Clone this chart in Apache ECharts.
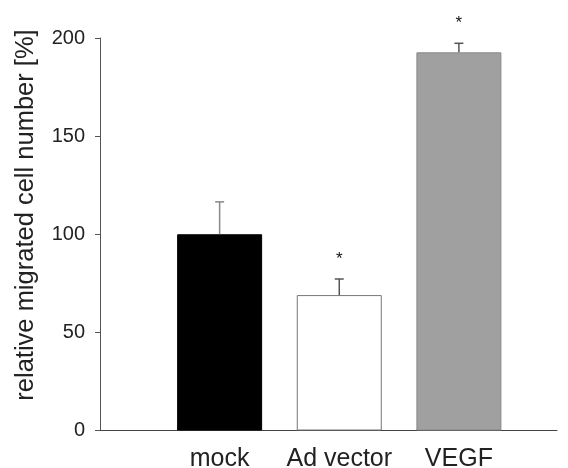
<!DOCTYPE html>
<html>
<head>
<meta charset="utf-8">
<script src="https://cdn.jsdelivr.net/npm/echarts@6/dist/echarts.min.js"></script>
<style>html,body{margin:0;padding:0;background:#fff}#c{width:568px;height:468px}</style>
</head>
<body>
<div id="c"></div>
<script>
const categories = ['mock', 'Ad vector', 'VEGF'];
const positions = [1, 2, 3];
const means = [100, 69, 192.7];
const errorTops = [116.5, 77.2, 197.3];
const significant = [false, true, true];
const yTicks = [0, 50, 100, 150, 200];
const yTitle = 'relative migrated cell number [%]';

const barFill = ['#000000', '#ffffff', '#a0a0a0'];
const barBorder = ['#000000', '#777777', '#888888'];
const FONT = 'Liberation Sans, Arial, sans-serif';

const chart = echarts.init(document.getElementById('c'), null, {renderer: 'canvas'});
chart.setOption({
  animation: false,
  backgroundColor: '#fff',
  grid: {left: 100, right: 11, top: 38, bottom: 37.5, containLabel: false, outerBoundsMode: 'none'},
  graphic: [{
    type: 'text', x: 26, y: 215, rotation: Math.PI / 2,
    style: {text: yTitle, align: 'center', verticalAlign: 'middle', fontSize: 25.5, fill: '#222', fontFamily: FONT}
  }],
  xAxis: {
    type: 'value', min: 0, max: 3.82, interval: 1,
    axisLine: {show: true, lineStyle: {color: '#444', width: 1}},
    axisTick: {show: false},
    splitLine: {show: false},
    axisLabel: {
      margin: 16, fontSize: 25, color: '#222', fontFamily: FONT,
      formatter: v => { const i = positions.indexOf(v); return i >= 0 ? categories[i] : ''; }
    }
  },
  yAxis: {
    type: 'value', min: yTicks[0], max: yTicks[yTicks.length - 1], interval: 50,
    axisLine: {show: true, lineStyle: {color: '#555', width: 1}},
    axisTick: {show: true, inside: false, length: 5, lineStyle: {color: '#555'}},
    splitLine: {show: false},
    axisLabel: {margin: 15, fontSize: 20, color: '#222', fontFamily: FONT}
  },
  series: [
    {
      type: 'bar', barWidth: 85, z: 2,
      data: positions.map((p, i) => ({
        value: [p, means[i]],
        itemStyle: {color: barFill[i], borderColor: barBorder[i], borderWidth: 1}
      }))
    },
    {
      type: 'custom', z: 3,
      data: positions.map((p, i) => [p, means[i], errorTops[i], significant[i] ? 1 : 0]),
      renderItem: (params, api) => {
        const base = api.coord([api.value(0), api.value(1)]);
        const top = api.coord([api.value(0), api.value(2)]);
        const cap = 4.5;
        const lineColor = params.dataIndex === 0 ? '#888' : '#555';
        const children = [
          {type: 'line', shape: {x1: base[0], y1: base[1], x2: top[0], y2: top[1]}, style: {stroke: lineColor, lineWidth: 1.5}},
          {type: 'line', shape: {x1: top[0] - cap, y1: top[1], x2: top[0] + cap, y2: top[1]}, style: {stroke: lineColor, lineWidth: 1.5}}
        ];
        if (api.value(3)) {
          children.push({type: 'text', style: {text: '*', x: top[0], y: top[1] - 20, align: 'center', verticalAlign: 'middle', fontSize: 17, fontFamily: FONT, fill: '#111'}});
        }
        return {type: 'group', children};
      }
    }
  ]
});
</script>
</body>
</html>
